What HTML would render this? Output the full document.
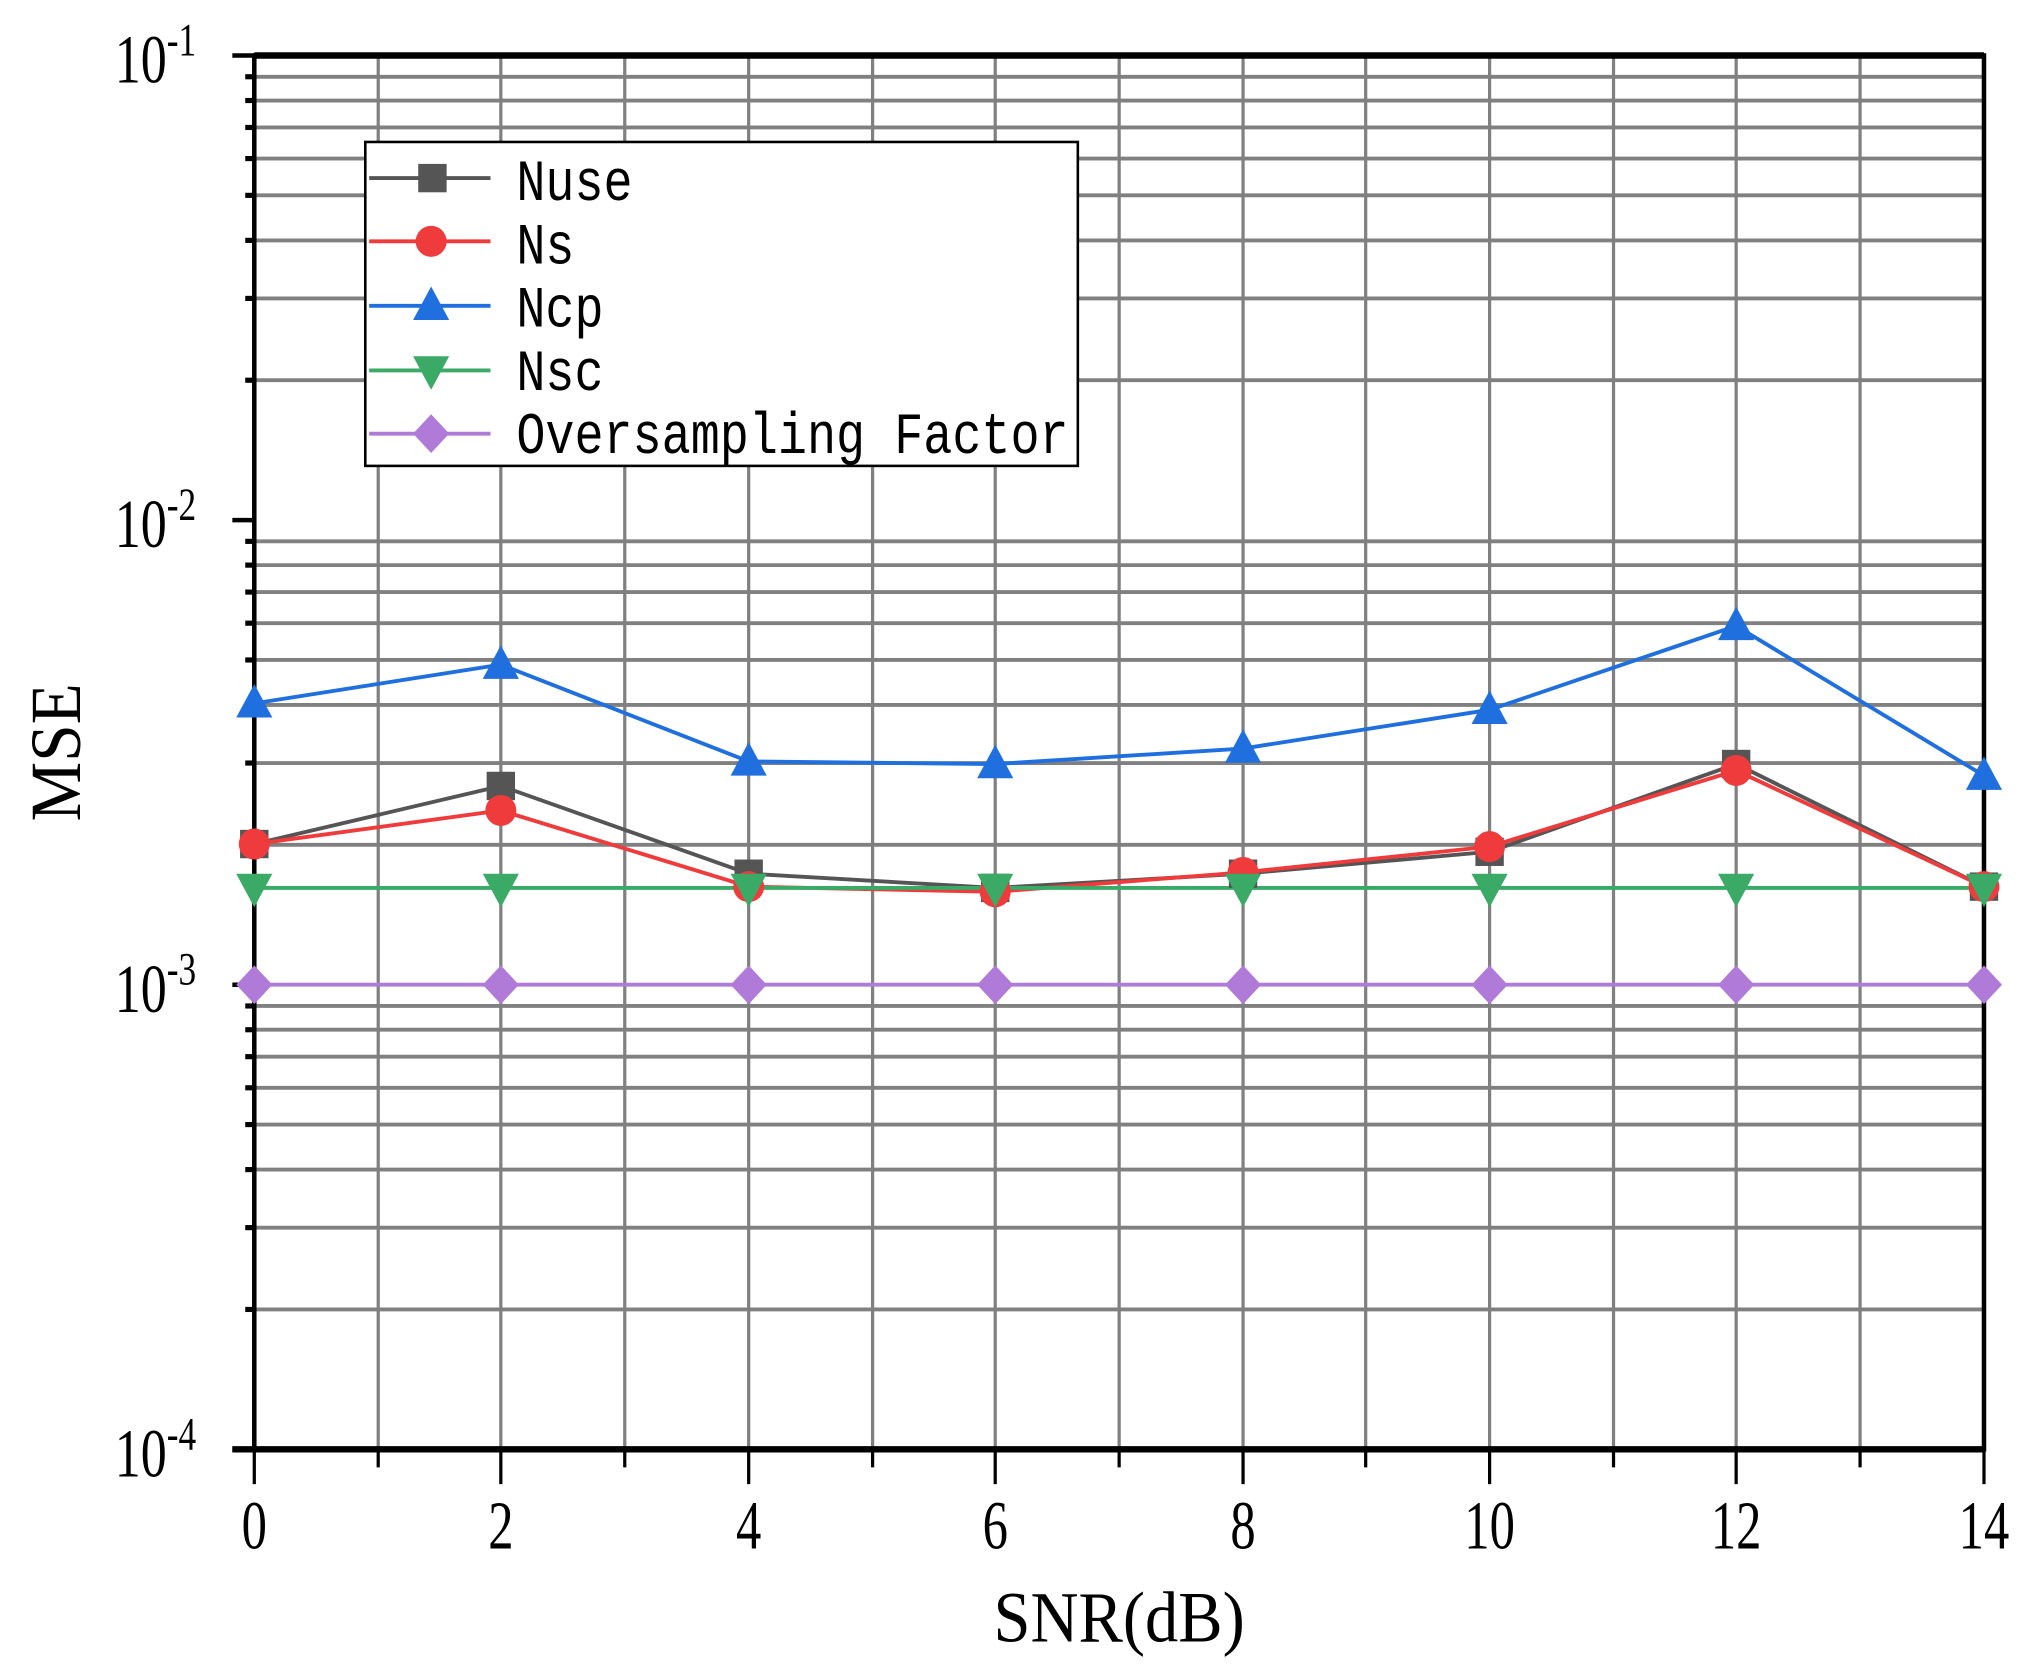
<!DOCTYPE html>
<html><head><style>html,body{margin:0;padding:0;background:#fff}svg{display:block}</style></head><body>
<svg width="2024" height="1670" viewBox="0 0 1568 1294" preserveAspectRatio="none" xmlns="http://www.w3.org/2000/svg">
<g stroke="#808080" stroke-width="2.5">
<line x1="293" y1="43" x2="293" y2="1123"/><line x1="388" y1="43" x2="388" y2="1123"/><line x1="484" y1="43" x2="484" y2="1123"/><line x1="580" y1="43" x2="580" y2="1123"/><line x1="676" y1="43" x2="676" y2="1123"/><line x1="771" y1="43" x2="771" y2="1123"/><line x1="867" y1="43" x2="867" y2="1123"/><line x1="963" y1="43" x2="963" y2="1123"/><line x1="1058" y1="43" x2="1058" y2="1123"/><line x1="1154" y1="43" x2="1154" y2="1123"/><line x1="1250" y1="43" x2="1250" y2="1123"/><line x1="1345" y1="43" x2="1345" y2="1123"/><line x1="1441" y1="43" x2="1441" y2="1123"/>
</g>
<g stroke="#808080" stroke-width="3" id="hg"></g>
<g stroke="#000" stroke-width="4" id="yt"></g>
<script>
var g=document.getElementById('hg'),yt=document.getElementById('yt'),ns='http://www.w3.org/2000/svg';
for(var d=0;d<3;d++){for(var k=2;k<=9;k++){var y=43+360*d+360*(1-Math.log10(k));var l=document.createElementNS(ns,'line');l.setAttribute('x1',197);l.setAttribute('x2',1537);l.setAttribute('y1',y);l.setAttribute('y2',y);g.appendChild(l);
var t=document.createElementNS(ns,'line');t.setAttribute('x1',190);t.setAttribute('x2',197);t.setAttribute('y1',y);t.setAttribute('y2',y);yt.appendChild(t);}}
</script>
<g stroke="#000" stroke-width="3.5" fill="none">
<rect x="197" y="43" width="1340" height="1080"/>
<line x1="180" y1="43" x2="197" y2="43"/><line x1="180" y1="403" x2="197" y2="403"/><line x1="180" y1="763" x2="197" y2="763"/><line x1="180" y1="1123" x2="197" y2="1123"/>
</g>
<line x1="197" y1="43" x2="1537" y2="43" stroke="#000" stroke-width="5"/>
<line x1="180" y1="1123" x2="1537" y2="1123" stroke="#000" stroke-width="5"/>
<g stroke="#000" stroke-width="2.5">
<line x1="197" y1="1123" x2="197" y2="1150"/><line x1="388" y1="1123" x2="388" y2="1150"/><line x1="580" y1="1123" x2="580" y2="1150"/><line x1="771" y1="1123" x2="771" y2="1150"/><line x1="963" y1="1123" x2="963" y2="1150"/><line x1="1154" y1="1123" x2="1154" y2="1150"/><line x1="1345" y1="1123" x2="1345" y2="1150"/><line x1="1537" y1="1123" x2="1537" y2="1150"/>
<line x1="293" y1="1123" x2="293" y2="1137"/><line x1="484" y1="1123" x2="484" y2="1137"/><line x1="676" y1="1123" x2="676" y2="1137"/><line x1="867" y1="1123" x2="867" y2="1137"/><line x1="1058" y1="1123" x2="1058" y2="1137"/><line x1="1250" y1="1123" x2="1250" y2="1137"/><line x1="1441" y1="1123" x2="1441" y2="1137"/>
</g>
<g font-family="Liberation Serif, serif" font-size="53" fill="#000" text-anchor="middle">
<text transform="translate(197,1200) scale(0.74,1)">0</text>
<text transform="translate(388,1200) scale(0.74,1)">2</text>
<text transform="translate(580,1200) scale(0.74,1)">4</text>
<text transform="translate(771,1200) scale(0.74,1)">6</text>
<text transform="translate(963,1200) scale(0.74,1)">8</text>
<text transform="translate(1154,1200) scale(0.74,1)">10</text>
<text transform="translate(1345,1200) scale(0.74,1)">12</text>
<text transform="translate(1537,1200) scale(0.74,1)">14</text>
<text transform="translate(867,1272) scale(0.92,1)" font-size="56">SNR(dB)</text>
<text transform="translate(62,583) rotate(-90) scale(0.93,1)" font-size="56">MSE</text>
</g>
<g font-family="Liberation Serif, serif" font-size="53" fill="#000" text-anchor="end">
<text transform="translate(152,64) scale(0.76,1)">10<tspan font-size="36" dy="-21">-1</tspan></text>
<text transform="translate(152,424) scale(0.76,1)">10<tspan font-size="36" dy="-21">-2</tspan></text>
<text transform="translate(152,784) scale(0.76,1)">10<tspan font-size="36" dy="-21">-3</tspan></text>
<text transform="translate(152,1144) scale(0.76,1)">10<tspan font-size="36" dy="-21">-4</tspan></text>
</g>
<g fill="none" stroke-width="3">
<polyline stroke="#1f6fdf" points="197,545 388,515 580,590 771,592 963,580 1154,550 1345,485 1537,601"/>
<polyline stroke="#555" points="197,654 388,609 580,677 771,688 963,677 1154,660 1345,592 1537,687"/>
<polyline stroke="#ef3b3b" points="197,654 388,628 580,687 771,691 963,676 1154,656 1345,597 1537,687"/>
<polyline stroke="#3aaa66" points="197,688 1537,688"/>
<polyline stroke="#b07ad9" points="197,763 1537,763"/>
</g>
<g id="mk"></g>
<script>
var m=document.getElementById('mk');
function add(t,a){var e=document.createElementNS(ns,t);for(var k in a)e.setAttribute(k,a[k]);m.appendChild(e);}
var X=[197,388,580,771,963,1154,1345,1537];
function sq(x,y){add('rect',{x:x-11,y:y-11,width:22,height:22,fill:'#555'});}
function ci(x,y){add('circle',{cx:x,cy:y,r:12,fill:'#ef3b3b'});}
function up(x,y){add('polygon',{points:(x)+','+(y-15)+' '+(x-14)+','+(y+11)+' '+(x+14)+','+(y+11),fill:'#1f6fdf'});}
function dn(x,y){add('polygon',{points:(x)+','+(y+15)+' '+(x-14)+','+(y-11)+' '+(x+14)+','+(y-11),fill:'#3aaa66'});}
function di(x,y){add('polygon',{points:x+','+(y-15)+' '+(x+14)+','+y+' '+x+','+(y+15)+' '+(x-14)+','+y,fill:'#b07ad9'});}
var nu=[654,609,677,688,677,660,592,687],nsv=[654,628,687,691,676,656,597,687],cp=[545,515,590,592,580,550,485,601];
for(var i=0;i<8;i++){sq(X[i],nu[i]);ci(X[i],nsv[i]);up(X[i],cp[i]);dn(X[i],688);di(X[i],763);}
</script>
<rect x="283" y="110" width="552" height="251" fill="#fff" stroke="#000" stroke-width="2"/>
<g stroke-width="3">
<line x1="286" y1="138" x2="380" y2="138" stroke="#555"/>
<line x1="286" y1="187" x2="380" y2="187" stroke="#ef3b3b"/>
<line x1="286" y1="237" x2="380" y2="237" stroke="#1f6fdf"/>
<line x1="286" y1="287" x2="380" y2="287" stroke="#3aaa66"/>
<line x1="286" y1="336" x2="380" y2="336" stroke="#b07ad9"/>
</g>
<rect x="324" y="127" width="22" height="22" fill="#555"/>
<circle cx="334" cy="187" r="12" fill="#ef3b3b"/>
<polygon points="334,222 320,248 348,248" fill="#1f6fdf"/>
<polygon points="334,302 320,276 348,276" fill="#3aaa66"/>
<polygon points="334,321 348,336 334,351 320,336" fill="#b07ad9"/>
<g font-family="Liberation Mono, monospace" font-size="45" fill="#000">
<text transform="translate(400,155) scale(0.834,1)">Nuse</text>
<text transform="translate(400,204) scale(0.834,1)">Ns</text>
<text transform="translate(400,253) scale(0.834,1)">Ncp</text>
<text transform="translate(400,302) scale(0.834,1)">Nsc</text>
<text transform="translate(400,351) scale(0.834,1)">Oversampling Factor</text>
</g>
</svg>
</body></html>
